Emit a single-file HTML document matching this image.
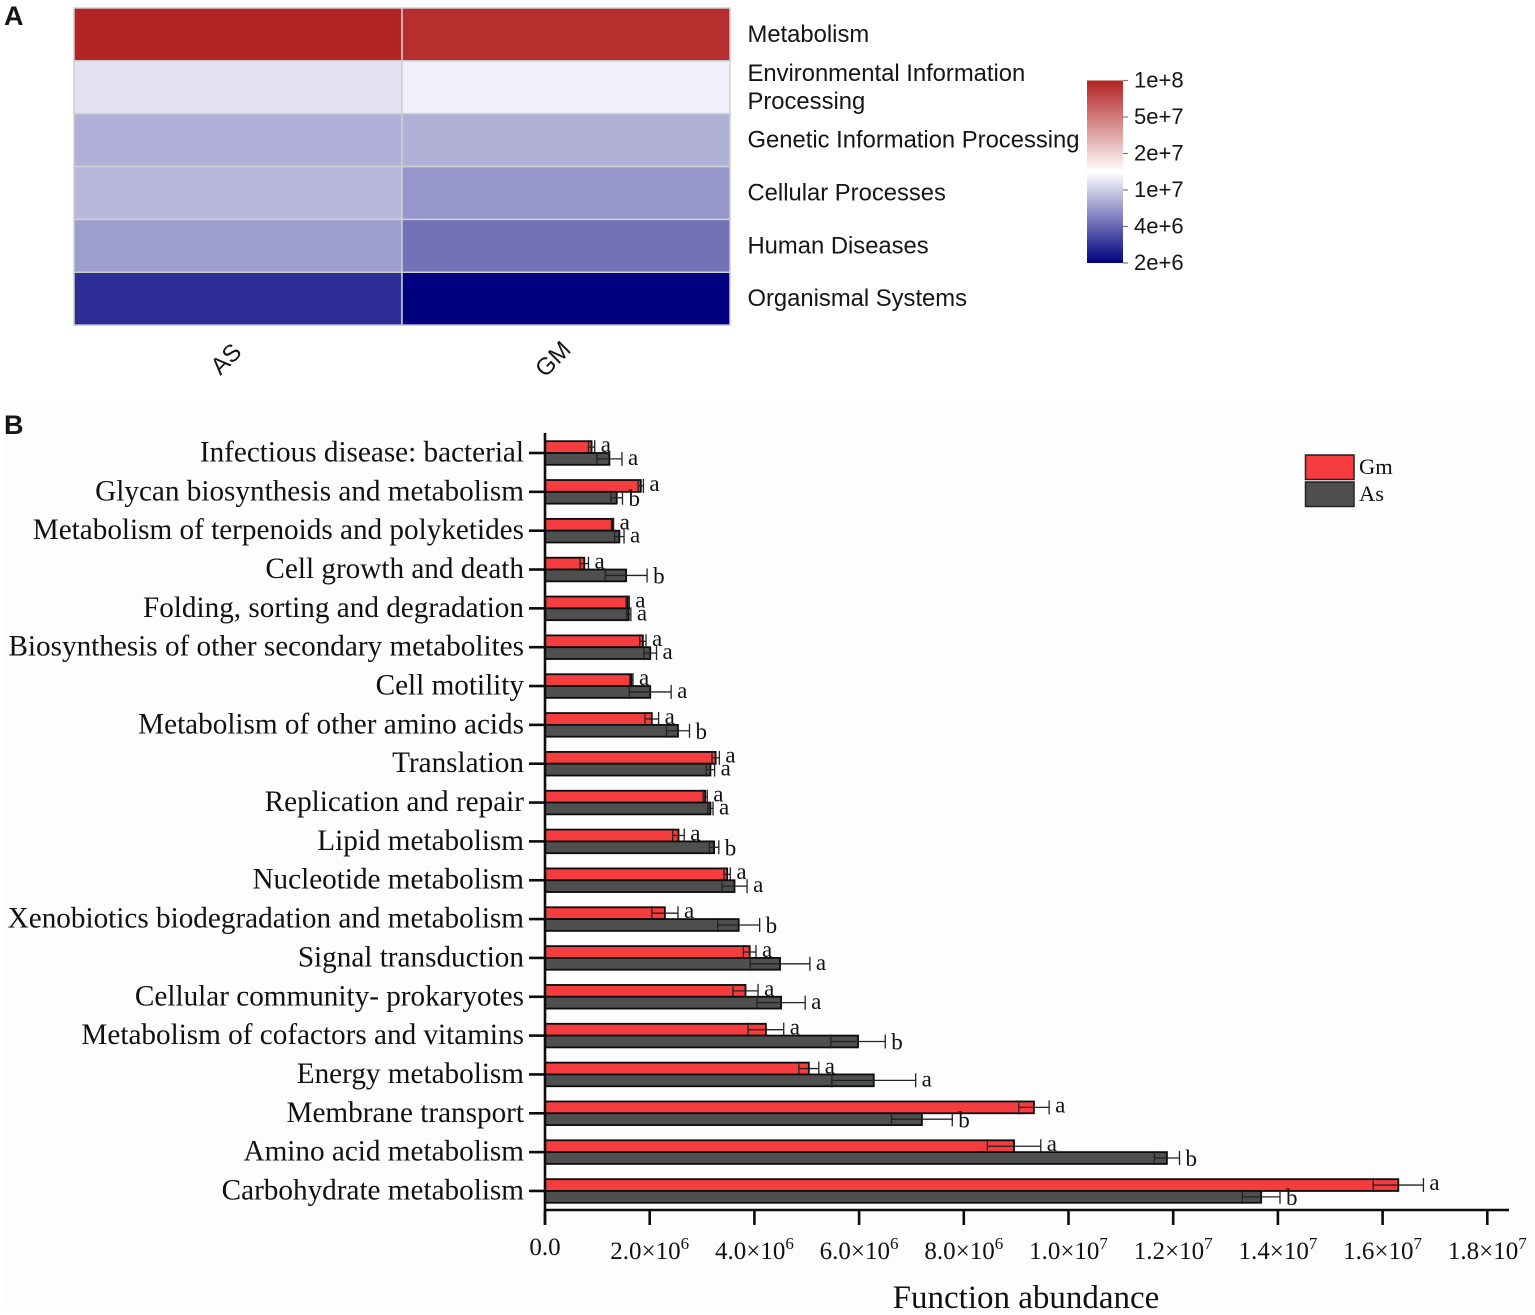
<!DOCTYPE html>
<html lang="en">
<head>
<meta charset="utf-8">
<title>Functional abundance heatmap and bar chart</title>
<style>
html,body{margin:0;padding:0;background:#fff;}
body{width:1535px;height:1315px;overflow:hidden;}
svg{display:block;}
.sans{font-family:"Liberation Sans",Arial,sans-serif;fill:#151515;}
.serif{font-family:"Liberation Serif","Times New Roman",serif;fill:#111;}
</style>
</head>
<body>
<svg id="chart" xmlns="http://www.w3.org/2000/svg" width="1535" height="1315" viewBox="0 0 1535 1315">
  <defs>
    <linearGradient id="heat-gradient" x1="0" y1="1" x2="0" y2="0">
      <stop offset="0" stop-color="#000080"/>
      <stop offset="0.5" stop-color="#ffffff"/>
      <stop offset="1" stop-color="#b22222"/>
    </linearGradient>
  </defs>
  <rect x="5" y="403" width="1525" height="907" fill="#fdfdfd"/>
  <text class="sans" x="4" y="25" font-size="27" font-weight="700" fill="#111">A</text>
  <text class="sans" x="4" y="434" font-size="27" font-weight="700" fill="#111">B</text>
  <g id="heatmap"></g>
  <g id="heat-legend"></g>
  <g id="bars"></g>
  <g id="bar-legend"></g>
</svg>
<script>
/* ---------- Heatmap data ---------- */
const heatSamples = ['AS', 'GM'];
const heatPathways = [
  ['Metabolism'],
  ['Environmental Information', 'Processing'],
  ['Genetic Information Processing'],
  ['Cellular Processes'],
  ['Human Diseases'],
  ['Organismal Systems']
];
const heatAS = [9.8e7, 1.13e7, 7.7e6, 8.2e6, 6.7e6, 2.84e6];
const heatGM = [9.0e7, 1.26e7, 7.8e6, 6.35e6, 4.8e6, 2.0e6];
const heatLegendLabels = ['1e+8', '5e+7', '2e+7', '1e+7', '4e+6', '2e+6'];

/* ---------- Bar chart data (values in millions) ---------- */
const categories = [
  'Infectious disease: bacterial',
  'Glycan biosynthesis and metabolism',
  'Metabolism of terpenoids and polyketides',
  'Cell growth and death',
  'Folding, sorting and degradation',
  'Biosynthesis of other secondary metabolites',
  'Cell motility',
  'Metabolism of other amino acids',
  'Translation',
  'Replication and repair',
  'Lipid metabolism',
  'Nucleotide metabolism',
  'Xenobiotics biodegradation and metabolism',
  'Signal transduction',
  'Cellular community- prokaryotes',
  'Metabolism of cofactors and vitamins',
  'Energy metabolism',
  'Membrane transport',
  'Amino acid metabolism',
  'Carbohydrate metabolism'
];
const gmValues = [0.89, 1.83, 1.29, 0.75, 1.58, 1.87, 1.65, 2.04, 3.26, 3.06, 2.55, 3.48, 2.29, 3.91, 3.83, 4.22, 5.04, 9.34, 8.96, 16.30];
const gmErrors = [0.06, 0.05, 0.02, 0.08, 0.03, 0.06, 0.03, 0.13, 0.07, 0.04, 0.11, 0.06, 0.25, 0.12, 0.24, 0.34, 0.19, 0.29, 0.51, 0.48];
const asValues = [1.23, 1.37, 1.42, 1.55, 1.60, 2.01, 2.01, 2.54, 3.16, 3.16, 3.23, 3.62, 3.70, 4.49, 4.51, 5.98, 6.28, 7.20, 11.88, 13.68];
const asErrors = [0.24, 0.11, 0.09, 0.40, 0.04, 0.12, 0.40, 0.22, 0.08, 0.05, 0.09, 0.24, 0.40, 0.57, 0.46, 0.52, 0.80, 0.58, 0.24, 0.36];
const gmLetters = ['a','a','a','a','a','a','a','a','a','a','a','a','a','a','a','a','a','a','a','a'];
const asLetters = ['a','b','a','b','a','a','a','b','a','a','b','a','b','a','a','b','a','b','b','b'];
const xTickBases = ['0.0', '2.0', '4.0', '6.0', '8.0', '1.0', '1.2', '1.4', '1.6', '1.8'];
const xTickExponents = ['', '6', '6', '6', '6', '7', '7', '7', '7', '7'];
const xTickValues = [0, 2, 4, 6, 8, 10, 12, 14, 16, 18];

/* ---------- Helpers ---------- */
const NS = 'http://www.w3.org/2000/svg';
function mk(tag, attrs, parent) {
  const el = document.createElementNS(NS, tag);
  for (const k in attrs) el.setAttribute(k, attrs[k]);
  parent.appendChild(el);
  return el;
}
function slug(s) {
  return s.toLowerCase().replace(/[^a-z0-9]+/g, '-').replace(/^-|-$/g, '');
}

/* ---------- Heatmap ---------- */
const heatG = document.getElementById('heatmap');
const heatLeft = 74, heatTop = 8, heatCellW = 328, heatCellH = 52.85;
const logMin = Math.log10(2e6), logMax = Math.log10(1e8);
function heatT(v) {
  return Math.max(0, Math.min(1, (Math.log10(v) - logMin) / (logMax - logMin)));
}
function heatColor(v) {
  const t = heatT(v);
  const lerp = (a, b, f) => Math.round(a + (b - a) * f);
  if (t < 0.5) {
    const f = t / 0.5;
    return 'rgb(' + lerp(0, 255, f) + ',' + lerp(0, 255, f) + ',' + lerp(128, 255, f) + ')';
  }
  const f = (t - 0.5) / 0.5;
  return 'rgb(' + lerp(255, 178, f) + ',' + lerp(255, 34, f) + ',' + lerp(255, 34, f) + ')';
}
[heatAS, heatGM].forEach(function (series, c) {
  series.forEach(function (v, r) {
    const cell = mk('rect', {
      x: heatLeft + c * heatCellW, y: heatTop + r * heatCellH,
      width: heatCellW, height: heatCellH,
      fill: heatColor(v), stroke: '#cfcfcf', 'stroke-width': 1.5
    }, heatG);
    
    
  });
});
heatPathways.forEach(function (lines, r) {
  const cy = heatTop + (r + 0.5) * heatCellH;
  const t = mk('text', { class: 'sans', 'font-size': 23.8 }, heatG);
  
  
  lines.forEach(function (line, i) {
    const ts = mk('tspan', { x: 747.5, y: cy + 7.5 + (i - (lines.length - 1) / 2) * 28 }, t);
    ts.textContent = line;
  });
});
heatSamples.forEach(function (name, c) {
  const cx = heatLeft + (c + 0.5) * heatCellW - (c === 0 ? 12 : 13);
  const t = mk('text', {
    class: 'sans', 'font-size': 24, 'text-anchor': 'middle',
    transform: 'rotate(-45 ' + cx + ' 359)', x: cx, y: 367, fill: '#222'
  }, heatG);
  
  
  t.textContent = name;
});

/* ---------- Heatmap colour legend ---------- */
const hl = document.getElementById('heat-legend');
const hlTop = 80.5, hlBottom = 263, hlLeft = 1087, hlRight = 1123;
const hlBar = mk('rect', { x: hlLeft, y: hlTop, width: hlRight - hlLeft, height: hlBottom - hlTop, fill: 'url(#heat-gradient)' }, hl);


heatLegendLabels.forEach(function (label, i) {
  const y = hlTop + i * (hlBottom - hlTop) / (heatLegendLabels.length - 1);
  const tick = mk('line', { x1: hlRight, x2: hlRight + 5, y1: y, y2: y, stroke: '#777', 'stroke-width': 1.2 }, hl);
  
  
  const t = mk('text', { class: 'sans', x: 1134, y: y + 7, 'font-size': 22 }, hl);
  
  
  t.textContent = label;
});

/* ---------- Bar chart ---------- */
const bars = document.getElementById('bars');
const x0 = 545, pxPerMillion = 52.35;
const yFirst = 453, yStep = 38.84, barH = 11.8;
const xAxisY = 1210;
function xScale(v) { return x0 + v * pxPerMillion; }
function yScale(i) { return yFirst + i * yStep; }
const RED = '#f53d3f', DARK = '#4f4f4f', INK = '#0c0c0c';

function drawBar(i, value, err, letter, fill, seriesName, offset, letterDy) {
  const y = yScale(i) + offset;
  const cy = y + barH / 2;
  const rect = mk('rect', {
    x: x0, y: y, width: xScale(value) - x0, height: barH,
    fill: fill, stroke: INK, 'stroke-width': 1.8
  }, bars);
  
  
  const lo = xScale(value - err), hi = xScale(value + err);
  const stem = mk('line', { x1: lo, x2: hi, y1: cy, y2: cy, stroke: '#222', 'stroke-width': 1.3 }, bars);
  
  
  [lo, hi].forEach(function (px) {
    const cap = mk('line', { x1: px, x2: px, y1: cy - 7, y2: cy + 7, stroke: '#222', 'stroke-width': 1.3 }, bars);
    
    
  });
  const t = mk('text', { class: 'serif', x: hi + 6, y: yScale(i) + letterDy + (letter === 'b' ? 2 : 0), 'font-size': 23 }, bars);
  
  
  t.textContent = letter;
}

categories.forEach(function (name, i) {
  drawBar(i, gmValues[i], gmErrors[i], gmLetters[i], RED, 'gm', -barH, -1);
  drawBar(i, asValues[i], asErrors[i], asLetters[i], DARK, 'as', 0, 12);
  const tick = mk('line', { x1: 529, x2: x0, y1: yScale(i), y2: yScale(i), stroke: INK, 'stroke-width': 2.6 }, bars);
  
  
  const label = mk('text', { class: 'serif', x: 524, y: yScale(i) + 8.5, 'font-size': 29.2, 'text-anchor': 'end' }, bars);
  
  
  label.textContent = name;
});

const yAxis = mk('line', { x1: x0, x2: x0, y1: 433, y2: 1225, stroke: INK, 'stroke-width': 2.6 }, bars);


const xAxis = mk('line', { x1: x0, x2: 1509, y1: xAxisY, y2: xAxisY, stroke: INK, 'stroke-width': 2.6 }, bars);



xTickValues.forEach(function (v, i) {
  const px = xScale(v);
  const tick = mk('line', { x1: px, x2: px, y1: xAxisY, y2: 1225, stroke: INK, 'stroke-width': 2.6 }, bars);
  
  
  const t = mk('text', { class: 'serif', x: px, y: xTickExponents[i] ? 1259 : 1255, 'font-size': 25, 'text-anchor': 'middle' }, bars);
  
  
  if (xTickExponents[i]) {
    const a = mk('tspan', {}, t);
    a.textContent = xTickBases[i] + '×10';
    const b = mk('tspan', { dy: -10, 'font-size': 17 }, t);
    b.textContent = xTickExponents[i];
  } else {
    t.textContent = xTickBases[i];
  }
});

const xTitle = mk('text', { class: 'serif', x: 1026, y: 1308, 'font-size': 33, 'text-anchor': 'middle' }, bars);


xTitle.textContent = 'Function abundance';

/* ---------- Bar legend ---------- */
const bl = document.getElementById('bar-legend');
const legendNames = ['Gm', 'As'];
const legendFills = [RED, DARK];
legendNames.forEach(function (name, i) {
  const y = 455 + i * 27;
  const sw = mk('rect', { x: 1305.5, y: y, width: 48.5, height: 24.5, fill: legendFills[i], stroke: '#222', 'stroke-width': 1.5 }, bl);
  
  
  const t = mk('text', { class: 'serif', x: 1359, y: y + 19, 'font-size': 22.5 }, bl);
  
  
  t.textContent = name;
});
</script>
</body>
</html>
